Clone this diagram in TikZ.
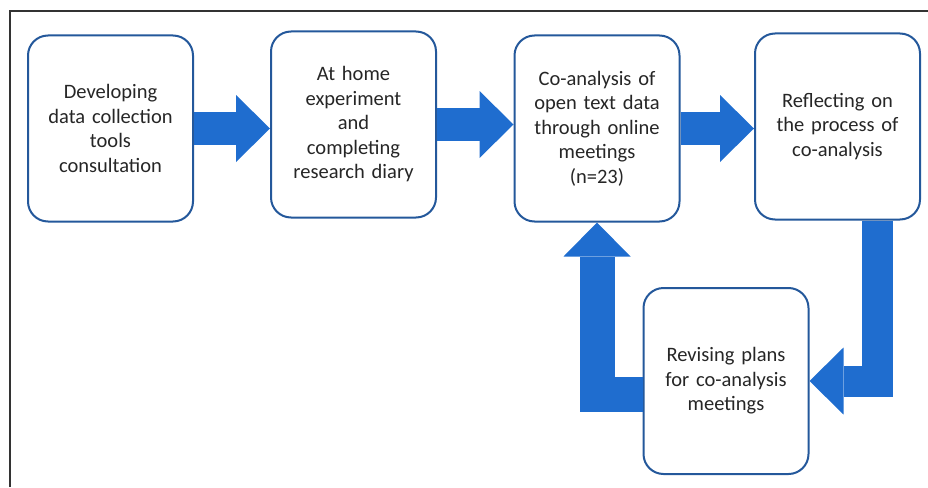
\documentclass[tikz,border=0pt]{standalone}
\usepackage{fontspec}
\setmainfont{Carlito}
\usepackage{tikz}
\usetikzlibrary{calc,positioning,arrows.meta}
\definecolor{boxline}{HTML}{24589B}
\definecolor{arrowblue}{HTML}{1F6DCF}
\definecolor{txt}{HTML}{262626}

\begin{document}
\begin{tikzpicture}[x=1pt, y=-1pt, blk/.style={draw=arrowblue, line width=33pt, -{Triangle[length=34pt, width=67pt, line width=0pt 0]}}]
\tikzstyle{box}=[draw=boxline, line width=2pt, rounded corners=20pt, fill=white, minimum width=165pt, minimum height=186pt, inner sep=0pt, text width=158pt, align=center, text=txt, font=\fontsize{20.5}{24.5}\selectfont]
\useasboundingbox (0,0) rectangle (928,487);
\draw[line width=1.3pt, draw=black!80] (10,487) -- (10,11) -- (928,11);
\node[box] (b1) at (110.5,128.5) {Developing\\data collection\\tools\\consultation};
\node[box] (b2) at (353.5,124.5) {At home\\experiment\\and\\completing\\research diary};
\node[box] (b3) at (597,128.5) {Co-analysis of\\open text data\\through online\\meetings\\(n=23)};
\node[box] (b4) at (837.5,126.5) {Reflecting on\\the process of\\co-analysis};
\node[box] (b5) at (726,381) {Revising plans\\for co-analysis\\meetings};
\foreach \i/\j in {b1/b2,b2/b3,b3/b4}{\draw[blk] (\i.east) -- (\i.east -| \j.west);}
\draw[blk, line width=31pt] (b4.south -| 877,0) |- (b5.east);
\draw[blk, line width=35pt] (b5.west |- 0,394.5) -| (b3.south);
\end{tikzpicture}
\end{document}
